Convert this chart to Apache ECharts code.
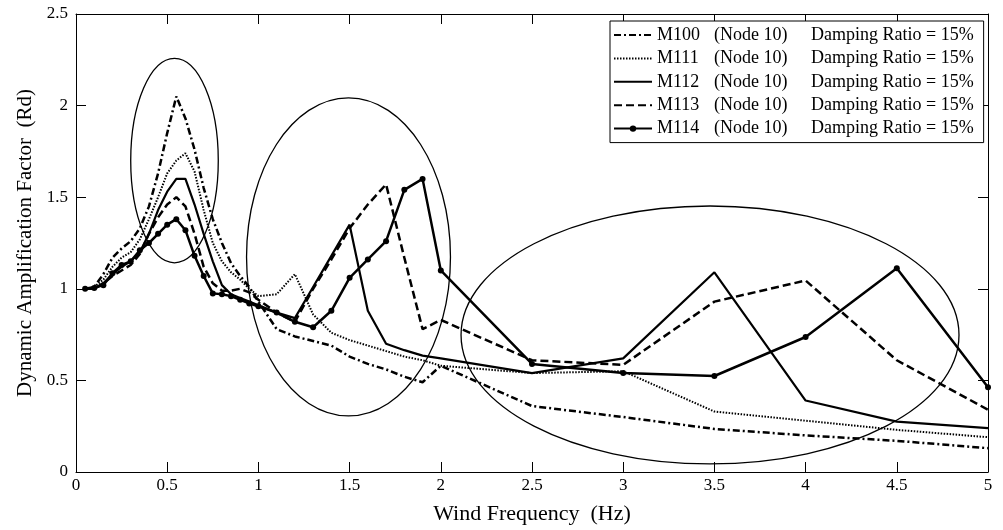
<!DOCTYPE html>
<html>
<head>
<meta charset="utf-8">
<script src="https://cdn.jsdelivr.net/npm/echarts@6/dist/echarts.min.js"></script>
<style>
html,body{margin:0;padding:0;background:#fff;}
#c{width:1003px;height:530px;}
</style>
</head>
<body>
<div id="c"></div>
<script>
// ---- data ----
var freq = [0.05,0.1,0.15,0.2,0.25,0.3,0.35,0.4,0.45,0.5,0.55,0.6,0.65,0.7,0.75,0.8,0.85,0.9,0.95,1.0,
            1.1,1.2,1.3,1.4,1.5,1.6,1.7,1.8,1.9,2.0,2.5,3.0,3.5,4.0,4.5,5.0];
var m100 = [1.0,1.01,1.08,1.17,1.22,1.26,1.33,1.45,1.63,1.85,2.05,1.93,1.76,1.55,1.38,1.25,1.14,1.07,1.01,0.93,
            0.78,0.74,0.715,0.69,0.63,0.59,0.56,0.52,0.49,0.58,0.36,0.30,0.235,0.20,0.17,0.13];
var m111 = [1.0,1.01,1.05,1.12,1.17,1.20,1.27,1.38,1.50,1.63,1.70,1.74,1.64,1.43,1.25,1.15,1.09,1.05,1.0,0.96,
            0.97,1.08,0.86,0.76,0.72,0.69,0.66,0.63,0.61,0.58,0.54,0.55,0.33,0.28,0.23,0.19];
var m112 = [1.0,1.0,1.03,1.08,1.12,1.15,1.20,1.30,1.43,1.53,1.60,1.60,1.46,1.30,1.15,1.02,0.97,0.95,0.93,0.91,
            0.87,0.84,1.01,1.18,1.35,0.88,0.70,0.665,0.635,0.62,0.54,0.62,1.09,0.39,0.275,0.24];
var m113 = [1.0,1.0,1.03,1.07,1.10,1.13,1.19,1.30,1.39,1.46,1.50,1.45,1.30,1.12,1.03,0.99,0.99,1.0,0.98,0.94,
            0.87,0.82,1.0,1.16,1.33,1.46,1.57,1.17,0.78,0.83,0.61,0.585,0.93,1.045,0.61,0.34];
var m114 = [1.0,1.005,1.02,1.085,1.13,1.15,1.21,1.25,1.30,1.35,1.38,1.32,1.18,1.07,0.975,0.97,0.96,0.94,0.92,0.905,
            0.87,0.82,0.79,0.88,1.06,1.16,1.26,1.54,1.60,1.10,0.59,0.54,0.524,0.737,1.112,0.462];
var seriesNames = ['M100','M111','M112','M113','M114'];
var nodeText = '(Node 10)';
var dampText = 'Damping Ratio = 15%';
var xTitle = 'Wind Frequency  (Hz)';
var yTitle = 'Dynamic Amplification Factor  (Rd)';
// annotation ellipses in data units
var ellCx = [0.54, 1.494, 3.476];
var ellCy = [1.70, 1.174, 0.748];
var ellRx = [0.24, 0.559, 1.365];
var ellRy = [0.558, 0.868, 0.704];

// ---- chart ----
var FONT = '"Liberation Serif", "Times New Roman", serif';
function pairs(v){ return freq.map(function(f,i){ return [f, v[i]]; }); }
var styles = [
  {type:[7,3,2,3], width:2.5, symbol:'none'},
  {type:[1.5,1.5], width:2, symbol:'none'},
  {type:'solid', width:2.2, symbol:'none'},
  {type:[8,4], width:2.5, symbol:'none'},
  {type:'solid', width:2.5, symbol:'circle'}
];
var valuesList = [m100,m111,m112,m113,m114];
var series = seriesNames.map(function(n,i){
  return {
    name:n, type:'line', xAxisIndex:0, yAxisIndex:0,
    data:pairs(valuesList[i]),
    symbol:styles[i].symbol, symbolSize:6, showSymbol: styles[i].symbol!=='none',
    itemStyle:{color:'#000'},
    lineStyle:{color:'#000', width:styles[i].width, type:styles[i].type},
    emphasis:{disabled:true}, animation:false, z: 2+i
  };
});
var legendData = seriesNames.map(function(n,i){
  return styles[i].symbol === 'none'
    ? {name:n, itemStyle:{opacity:0, color:'transparent', borderWidth:0}}
    : {name:n};
});
function axisCommon(){
  return {
    axisLine:{show:true, onZero:false, lineStyle:{color:'#000', width:1}},
    axisTick:{show:true, inside:true, length:10, lineStyle:{color:'#000', width:1}},
    splitLine:{show:false}
  };
}
var xb = Object.assign(axisCommon(), {type:'value', min:0, max:5, interval:0.5, position:'bottom',
  axisLabel:{color:'#000', fontFamily:FONT, fontSize:17, margin:5},
  name:xTitle, nameLocation:'middle', nameGap:31,
  nameTextStyle:{color:'#000', fontFamily:FONT, fontSize:22}});
var xt = Object.assign(axisCommon(), {type:'value', min:0, max:5, interval:0.5, position:'top', axisLabel:{show:false}});
var yl = Object.assign(axisCommon(), {type:'value', min:0, max:2.5, interval:0.5, position:'left',
  axisLabel:{color:'#000', fontFamily:FONT, fontSize:17, margin:8},
  name:yTitle, nameLocation:'middle', nameGap:38,
  nameTextStyle:{color:'#000', fontFamily:FONT, fontSize:21}});
var yr = Object.assign(axisCommon(), {type:'value', min:0, max:2.5, interval:0.5, position:'right', axisLabel:{show:false}});

var chart = echarts.init(document.getElementById('c'), null, {renderer:'canvas'});
chart.setOption({
  backgroundColor:'#fff',
  animation:false,
  grid:{left:76, right:15, top:14, bottom:58, containLabel:false, outerBoundsMode:'none'},
  xAxis:[xb, xt],
  yAxis:[yl, yr],
  legend:{
    orient:'vertical', left:610, top:21, padding:[5,10,5,3],
    backgroundColor:'#fff', borderColor:'#000', borderWidth:1, borderRadius:0,
    itemWidth:38, itemHeight:8, itemGap:5.4,
    data:legendData,
    formatter:function(n){ return '{a|'+n+'}{b|'+nodeText+'}{c|'+dampText+'}'; },
    textStyle:{color:'#000', fontFamily:FONT, fontSize:18, lineHeight:18,
      rich:{
        a:{width:57, fontFamily:FONT, fontSize:18, color:'#000', lineHeight:18},
        b:{width:97, fontFamily:FONT, fontSize:18, color:'#000', lineHeight:18},
        c:{fontFamily:FONT, fontSize:18, color:'#000', lineHeight:18}
      }},
    selectedMode:false
  },
  series:series
});

var gfx = ellCx.map(function(cx,i){
  var c = chart.convertToPixel({xAxisIndex:0, yAxisIndex:0}, [cx, ellCy[i]]);
  var e = chart.convertToPixel({xAxisIndex:0, yAxisIndex:0}, [cx+ellRx[i], ellCy[i]+ellRy[i]]);
  return {type:'ellipse', silent:true, z:100,
    shape:{cx:c[0], cy:c[1], rx:Math.abs(e[0]-c[0]), ry:Math.abs(c[1]-e[1])},
    style:{fill:null, stroke:'#000', lineWidth:1.3}};
});
chart.setOption({graphic:gfx});
</script>
</body>
</html>
